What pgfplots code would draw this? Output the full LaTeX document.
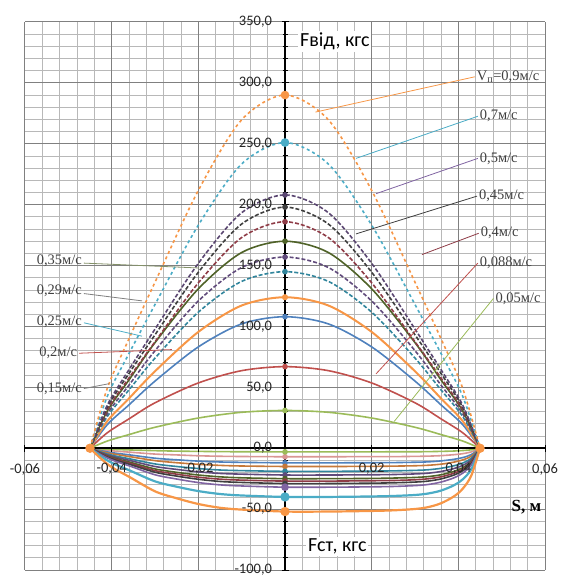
\documentclass[border=0pt]{standalone}
\usepackage{fontspec}
\setmainfont{Liberation Serif}
\newfontfamily\calfont{Carlito}
\usepackage{pgfplots}
\usepackage{pgfplotstable}
\pgfplotsset{compat=1.18}

\definecolor{cOrange}{HTML}{F79646}
\definecolor{cAqua}{HTML}{4BACC6}
\definecolor{cPurple}{HTML}{8064A2}
\definecolor{cRed}{HTML}{C0504D}
\definecolor{cGreen}{HTML}{9BBB59}
\definecolor{cBlue}{HTML}{4F81BD}
\definecolor{cDark}{HTML}{3F3F3F}
\definecolor{cOlive}{HTML}{4F6228}
\definecolor{cPlum}{HTML}{604A7B}
\definecolor{cTeal}{HTML}{31859C}
\definecolor{cWine}{HTML}{8E3B46}
\definecolor{cPink}{HTML}{D99694}
\definecolor{cLabel}{HTML}{404040}

% Rebound force F_vid (kgf) vs stroke S (m), one column per piston speed
\pgfplotstableread{
s      u90   u70   u50   u45   u40   u35   u29   u25   u20   u15   u088 u05
-0.045 0     0     0     0     0     0     0     0     0     0     0    0
-0.041 49.3  42.7  35.4  33.7  31.6  30.6  28.3  26.1  22.3  19.4  12.7 5.9
-0.036 89.9  77.8  64.5  61.4  57.7  56.1  51.8  47.9  40.9  35.6  24.1 11.2
-0.030 136.3 118.0 97.8  93.1  87.4  86.7  80.1  74.0  63.2  55.1  37.3 17.2
-0.020 211.7 183.2 151.8 144.5 135.8 130.9 120.9 111.7 95.5  83.2  53.6 24.8
-0.010 269.7 233.4 193.4 184.1 173.0 160.7 148.4 137.0 117.2 102.1 63.7 29.5
0.000  290   251   208   198   186   170   157   145   124   108   67   31
0.010  269.7 233.4 193.4 184.1 173.0 160.7 148.4 137.0 117.2 102.1 63.7 29.5
0.020  211.7 183.2 151.8 144.5 135.8 130.9 120.9 111.7 95.5  83.2  53.6 24.8
0.030  136.3 118.0 97.8  93.1  87.4  86.7  80.1  74.0  63.2  55.1  37.3 17.2
0.036  89.9  77.8  64.5  61.4  57.7  56.1  51.8  47.9  40.9  35.6  24.1 11.2
0.041  49.3  42.7  35.4  33.7  31.6  30.6  28.3  26.1  22.3  19.4  12.7 5.9
0.045  0     0     0     0     0     0     0     0     0     0     0    0
}\reboundtab

% Compression force F_st (kgf) vs stroke S (m)
\pgfplotstableread{
s      l90   l70   l50   l45   l40   l35   l29   l25   l20   l15   l088 l05
-0.045 0     0     0     0     0     0     0     0     0     0     0    0
-0.043 -6.8  -5.2  -4.2  -3.8  -3.5  -3.3  -2.9  -2.5  -2.0  -1.6  -0.9 -0.4
-0.041 -13.0 -10.0 -8.0  -7.3  -6.8  -6.3  -5.5  -4.8  -3.8  -3.0  -1.8 -0.8
-0.039 -17.7 -13.6 -10.9 -9.9  -9.2  -8.5  -7.5  -6.5  -5.1  -4.1  -2.4 -1.0
-0.036 -23.4 -18.0 -14.4 -13.1 -12.2 -11.3 -9.9  -8.6  -6.8  -5.4  -3.2 -1.4
-0.030 -35.4 -27.2 -21.8 -19.7 -18.4 -17.0 -15.0 -12.9 -10.2 -8.2  -4.8 -2.0
-0.025 -41.1 -31.6 -25.3 -22.9 -21.3 -19.8 -17.4 -15.0 -11.9 -9.5  -5.5 -2.4
-0.020 -45.8 -35.2 -28.2 -25.5 -23.8 -22.0 -19.4 -16.7 -13.2 -10.6 -6.2 -2.6
-0.015 -48.9 -37.6 -30.1 -27.3 -25.4 -23.5 -20.7 -17.9 -14.1 -11.3 -6.6 -2.8
-0.010 -50.4 -38.8 -31.0 -28.1 -26.2 -24.3 -21.3 -18.4 -14.6 -11.6 -6.8 -2.9
0.000  -52   -40   -32   -29   -27   -25   -22   -19   -15   -12   -7   -3
0.010  -52   -40   -32   -29   -27   -25   -22   -19   -15   -12   -7   -3
0.020  -51.5 -39.6 -31.7 -28.7 -26.7 -24.8 -21.8 -18.8 -14.9 -11.9 -6.9 -3.0
0.025  -51.0 -39.2 -31.4 -28.4 -26.5 -24.5 -21.6 -18.6 -14.7 -11.8 -6.9 -2.9
0.030  -49.9 -38.4 -30.7 -27.8 -25.9 -24.0 -21.1 -18.2 -14.4 -11.5 -6.7 -2.9
0.033  -48.4 -37.2 -29.8 -27.0 -25.1 -23.3 -20.5 -17.7 -14.0 -11.2 -6.5 -2.8
0.036  -45.2 -34.8 -27.8 -25.2 -23.5 -21.8 -19.1 -16.5 -13.1 -10.4 -6.1 -2.6
0.039  -39.5 -30.4 -24.3 -22.0 -20.5 -19.0 -16.7 -14.4 -11.4 -9.1  -5.3 -2.3
0.041  -33.3 -25.6 -20.5 -18.6 -17.3 -16.0 -14.1 -12.2 -9.6  -7.7  -4.5 -1.9
0.043  -22.4 -17.2 -13.8 -12.5 -11.6 -10.8 -9.5  -8.2  -6.5  -5.2  -3.0 -1.3
0.045  0     0     0     0     0     0     0     0     0     0     0    0
}\compresstab

\begin{document}
\begin{tikzpicture}
\begin{axis}[
  name=ax, scale only axis, width=520pt, height=548pt,
  xmin=-0.06, xmax=0.06, ymin=-100, ymax=350,
  axis lines=middle, axis line style={-, black, line width=2.4pt},
  axis on top,
  scaled x ticks=false, scaled y ticks=false,
  xtick={-0.06,-0.04,-0.02,0.02,0.04,0.06},
  xticklabels={{-0,06},{-0,04},{-0,02},{0,02},{0,04},{0,06}},
  ytick={-100,-50,...,350},
  yticklabels={{-100,0},{-50,0},{0,0},{50,0},{100,0},{150,0},{200,0},{250,0},{300,0},{350,0}},
  minor y tick num=4,
  ticklabel style={font=\calfont\fontsize{14.5}{14.5}\selectfont, text=black!85},
  xticklabel style={yshift=-8pt},
  yticklabel style={xshift=-6pt},
  hide obscured y ticks=false,
  tick style={black, line width=1pt}, major tick length=7pt, minor tick length=5pt,
  clip=false,
  every axis plot/.append style={smooth, tension=0.5, line width=1.6pt},
  cm/.style={mark=*, mark repeat=13, mark phase=7, mark size=2pt, mark options={solid}},
  lm/.style={mark=*, mark repeat=21, mark phase=11, mark size=2pt, mark options={solid}},
]
% background grid: minor every 0.004 m / 10 kgf, major every 0.02 m / 50 kgf
\pgfplotsinvokeforeach{-0.056,-0.052,-0.048,-0.044,-0.036,-0.032,-0.028,-0.024,-0.016,-0.012,-0.008,-0.004,0.004,0.008,0.012,0.016,0.024,0.028,0.032,0.036,0.044,0.048,0.052,0.056}{
  \draw[black!28, line width=0.8pt] (axis cs:#1,-100) -- (axis cs:#1,350);
}
\pgfplotsinvokeforeach{-90,-80,...,340}{
  \draw[black!28, line width=0.8pt] (axis cs:-0.06,#1) -- (axis cs:0.06,#1);
}
\pgfplotsinvokeforeach{-0.06,-0.04,-0.02,0.02,0.04,0.06}{
  \draw[black!50, line width=1pt] (axis cs:#1,-100) -- (axis cs:#1,350);
}
\pgfplotsinvokeforeach{-100,-50,...,350}{
  \draw[black!50, line width=1pt] (axis cs:-0.06,#1) -- (axis cs:0.06,#1);
}
% compression branch
\addplot[cPink, lm] table[x=s,y=l088]{\compresstab};
\addplot[cGreen, lm] table[x=s,y=l05]{\compresstab};
\addplot[cBlue, lm] table[x=s,y=l15]{\compresstab};
\addplot[cOrange!80!black, lm] table[x=s,y=l20]{\compresstab};
\addplot[cTeal, lm] table[x=s,y=l25]{\compresstab};
\addplot[cPlum, lm] table[x=s,y=l29]{\compresstab};
\addplot[cOlive, lm] table[x=s,y=l35]{\compresstab};
\addplot[cWine, lm] table[x=s,y=l40]{\compresstab};
\addplot[cDark, lm] table[x=s,y=l45]{\compresstab};
\addplot[cPurple, lm, mark size=3pt] table[x=s,y=l50]{\compresstab};
\addplot[cAqua, line width=2.2pt, lm, mark size=3.5pt] table[x=s,y=l70]{\compresstab};
\addplot[cOrange, line width=2.2pt, mark=*, mark repeat=10, mark phase=1, mark size=3.5pt] table[x=s,y=l90]{\compresstab};
% rebound branch
\addplot[cGreen, cm] table[x=s,y=u05]{\reboundtab};
\addplot[cRed, cm] table[x=s,y=u088]{\reboundtab};
\addplot[cBlue, cm] table[x=s,y=u15]{\reboundtab};
\addplot[cOrange, cm, line width=2pt] table[x=s,y=u20]{\reboundtab};
\addplot[cTeal, dash pattern=on 4pt off 2pt, cm] table[x=s,y=u25]{\reboundtab};
\addplot[cPlum, dash pattern=on 4pt off 2pt, cm] table[x=s,y=u29]{\reboundtab};
\addplot[cOlive, cm] table[x=s,y=u35]{\reboundtab};
\addplot[cWine, dash pattern=on 4pt off 2pt, cm] table[x=s,y=u40]{\reboundtab};
\addplot[cDark, dash pattern=on 4pt off 2pt, cm] table[x=s,y=u45]{\reboundtab};
\addplot[cPurple!70!black, dash pattern=on 4pt off 2pt, cm] table[x=s,y=u50]{\reboundtab};
\addplot[cAqua, dash pattern=on 3pt off 3pt, cm, mark size=3.5pt] table[x=s,y=u70]{\reboundtab};
\addplot[cOrange, dash pattern=on 3pt off 3pt, mark=*, mark repeat=6, mark phase=1, mark size=3.5pt, mark options={solid}] table[x=s,y=u90]{\reboundtab};

% speed labels with leader lines
\begin{scope}[line width=0.8pt]
\draw[cOrange] (axis cs:0.007,276) -- (axis cs:0.0438,305);
\draw[cAqua] (axis cs:0.0164,238) -- (axis cs:0.0445,272.6);
\draw[cPurple] (axis cs:0.021,209) -- (axis cs:0.0445,238);
\draw[cDark] (axis cs:0.0164,176) -- (axis cs:0.0443,207);
\draw[cWine] (axis cs:0.0316,159) -- (axis cs:0.0447,176.5);
\draw[cRed] (axis cs:0.021,61) -- (axis cs:0.0445,152);
\draw[cGreen] (axis cs:0.0252,22) -- (axis cs:0.0481,123);
\draw[cOlive!70] (axis cs:-0.0464,152) -- (axis cs:-0.0198,148);
\draw[gray] (axis cs:-0.0464,127) -- (axis cs:-0.033,121);
\draw[cAqua] (axis cs:-0.0464,103) -- (axis cs:-0.033,92);
\draw[cRed] (axis cs:-0.0475,78) -- (axis cs:-0.0261,81);
\draw[gray] (axis cs:-0.0464,49) -- (axis cs:-0.0406,53);
\end{scope}
\begin{scope}[every node/.style={font=\fontsize{14.5}{14.5}\selectfont, text=cLabel, inner sep=1pt}]
\node[anchor=west] at (axis cs:0.0440,305) {V\textsubscript{п}=0,9м/с};
\node[anchor=west] at (axis cs:0.0447,272.6) {0,7м/с};
\node[anchor=west] at (axis cs:0.0447,238) {0,5м/с};
\node[anchor=west] at (axis cs:0.0445,207) {0,45м/с};
\node[anchor=west] at (axis cs:0.0449,176.5) {0,4м/с};
\node[anchor=west] at (axis cs:0.0447,152) {0,088м/с};
\node[anchor=west] at (axis cs:0.0483,123) {0,05м/с};
\node[anchor=east] at (axis cs:-0.0466,153.5) {0,35м/с};
\node[anchor=east] at (axis cs:-0.0466,129) {0,29м/с};
\node[anchor=east] at (axis cs:-0.0466,104) {0,25м/с};
\node[anchor=east] at (axis cs:-0.0477,78) {0,2м/с};
\node[anchor=east] at (axis cs:-0.0466,49) {0,15м/с};
\end{scope}

% axis titles
\node[anchor=west, fill=white, inner sep=2pt, font=\calfont\fontsize{20}{20}\selectfont] at (axis cs:0.0030,334) {Fвід, кгс};
\node[anchor=west, fill=white, inner sep=2pt, font=\calfont\fontsize{20}{20}\selectfont] at (axis cs:0.0048,-80.5) {Fст, кгс};
\node[anchor=west, font=\bfseries\fontsize{17}{17}\selectfont] at (axis cs:0.0515,-48.4) {S, м};
\end{axis}
\pgfresetboundingbox
\path ([shift={(-25pt,-7pt)}]ax.south west) rectangle ([shift={(15pt,22pt)}]ax.north east);
\end{tikzpicture}
\end{document}
